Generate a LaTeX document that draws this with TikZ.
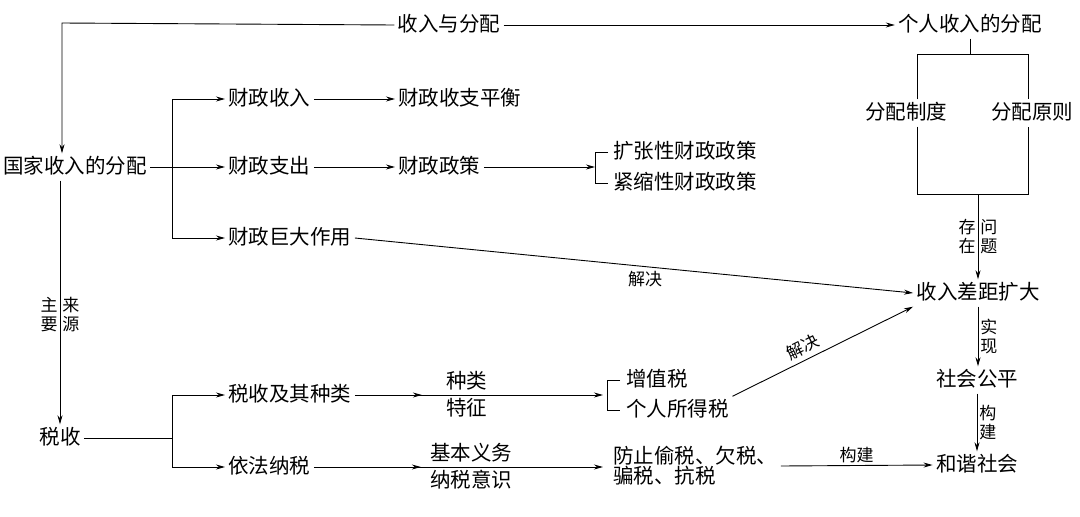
\documentclass[tikz,border=0pt]{standalone}
\usepackage{fontspec}
\setmainfont{Noto Sans CJK SC}
\usetikzlibrary{arrows.meta,decorations.markings}
\begin{document}
\begin{tikzpicture}[x=1pt,y=-1pt,line width=0.9pt,
  txt/.style={font=\fontsize{20.5}{22}\selectfont, inner sep=3pt, text height=17pt, text depth=3.5pt},
  lbl/.style={font=\fontsize{17}{19}\selectfont, inner sep=2pt, align=center},
  arr/.style={-{Stealth[length=9pt,width=5pt]}},
  midarrow/.style={postaction={decorate},decoration={markings,mark=at position #1 with {\arrow{Stealth[length=9pt,width=5pt]}}}}]
\useasboundingbox (0,0) rectangle (1080,517);
% nodes
\node[txt] (sr) at (449,25) {收入与分配};
\node[txt] (gr) at (970,25) {个人收入的分配};
\node[txt] (gj) at (75,167) {国家收入的分配};
\node[txt,anchor=west] (czsr) at (225,99) {财政收入};
\node[txt,anchor=west] (czph) at (395,99) {财政收支平衡};
\node[txt,anchor=west] (czzc) at (225,167) {财政支出};
\node[txt,anchor=west] (czzc2) at (395,167) {财政政策};
\node[txt,anchor=west] (kz) at (610,152) {扩张性财政政策};
\node[txt,anchor=west] (js) at (610,183) {紧缩性财政政策};
\node[txt,anchor=west] (jd) at (225,238) {财政巨大作用};
\node[txt] (fpzd) at (906,113) {分配制度};
\node[txt] (fpyz) at (1032,113) {分配原则};
\node[txt] (srcj) at (978,293) {收入差距扩大};
\node[txt] (shgp) at (977,380) {社会公平};
\node[txt] (hx) at (977,465) {和谐社会};
\node[txt] (ss) at (60,438) {税收};
\node[txt,anchor=west] (ssz) at (225,395) {税收及其种类};
\node[txt,anchor=west] (yf) at (225,467) {依法纳税};
\node[txt,anchor=west] (zzs) at (623,380) {增值税};
\node[txt,anchor=west] (grs) at (623,410) {个人所得税};
\node[anchor=west, align=left, font=\fontsize{20.5}{20}\selectfont, inner sep=3pt] (fz) at (610,466) {防止偷税、欠税、\\骗税、抗税};
% coordinates
\coordinate (c1) at (62,23);
\coordinate (b1) at (172,167);
\coordinate (br1) at (595,167);
\coordinate (bx1) at (917,54);
\coordinate (bx2) at (1028,194);
\coordinate (b2) at (172,438);
\coordinate (br2) at (607,395);
\coordinate (t2) at (603,395);
% connectors
\draw[arr] (sr.west) -- (c1) -- (c1 |- gj.north);
\draw[arr] (sr.east) -- (gr.west);
\draw[arr] (gj.east) -- (czzc.west);
\draw[arr] (b1 |- czsr.west) -- (czsr.west);
\draw (b1 |- czsr.west) -- (b1 |- jd.west);
\draw[arr] (b1 |- jd.west) -- (jd.west);
\draw[arr] (czsr.east) -- (czph.west);
\draw[arr] (czzc.east) -- (czzc2.west);
\draw[arr] (czzc2.east) -- (br1);
\draw ([xshift=-2pt]kz.west) -- (br1 |- kz.west) -- (br1 |- js.west) -- ([xshift=-2pt]js.west);
\draw[arr] (jd.east) -- node[lbl,pos=0.52,below=2pt]{解决} (srcj.west);
% box
\draw (gr.south) -- (gr.south |- bx1);
\draw (fpzd.north -| bx1) -- (bx1) -- (bx1 -| bx2) -- (fpyz.north -| bx2);
\draw (fpzd.south -| bx1) -- (bx1 |- bx2) -- (bx2) -- (fpyz.south -| bx2);
\draw[arr] (srcj.north |- bx2) -- node[lbl,left]{存\\在} node[lbl,right]{问\\题} (srcj.north);
\draw[arr] (srcj.south) -- node[lbl,right]{实\\现} (srcj.south |- shgp.north);
\draw[arr] (shgp.south) -- node[lbl,right]{构\\建} (hx.north);
% tax
\draw[arr] (ss.north |- gj.south) -- node[lbl,left,pos=0.55]{主\\要} node[lbl,right,pos=0.55]{来\\源} (ss.north);
\draw (ss.east) -- (b2);
\draw[arr] (b2 |- ssz.west) -- (ssz.west);
\draw (b2 |- ssz.west) -- (b2 |- yf.west);
\draw[arr] (b2 |- yf.west) -- (yf.west);
\draw[arr, midarrow=0.27] (ssz.east) -- node[txt,above,pos=0.45]{种类} node[txt,below,pos=0.45]{特征} (t2);
\draw ([xshift=-3pt]zzs.west) -- (br2 |- zzs.west) -- (br2 |- grs.west) -- ([xshift=-3pt]grs.west);
\draw[arr, midarrow=0.37] (yf.east) -- node[txt,above,pos=0.545]{基本义务} node[txt,below,pos=0.545]{纳税意识} (t2 |- yf.east);
\draw[arr] (grs.north east) -- node[lbl,sloped,above=3pt,pos=0.42]{解决} (srcj.south west);
\draw[arr] (fz.east) -- node[lbl,above]{构建} (hx.west);
\end{tikzpicture}
\end{document}
